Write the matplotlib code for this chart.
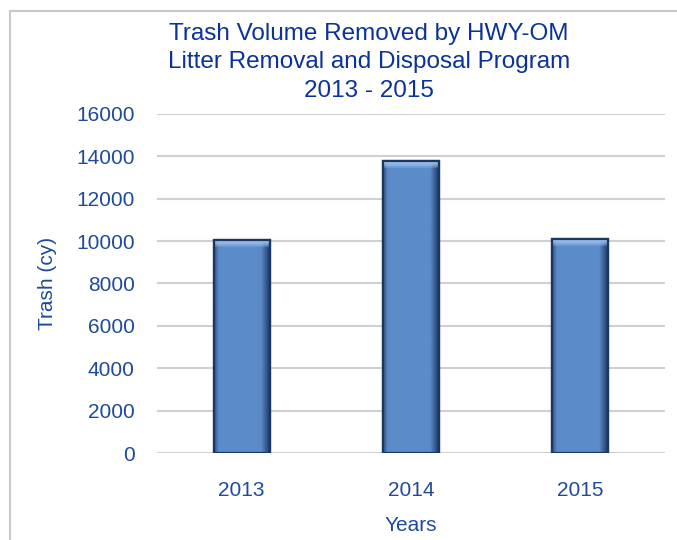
import numpy as np
import matplotlib.pyplot as plt
from matplotlib.patches import Rectangle
from matplotlib.colors import to_rgb

years = ['2013', '2014', '2015']
trash = [10050, 13800, 10100]
yticks = np.arange(0, 16001, 2000)

plt.rcParams['font.family'] = ['Liberation Sans', 'DejaVu Sans']
txt_blue = '#1f4a9c'

fig = plt.figure(figsize=(6.77, 5.40), dpi=100)
ax = fig.add_axes([0.2319, 0.1611, 0.7504, 0.6278])

x = np.arange(len(years))
bars = ax.bar(x, trash, width=0.33, color='#5b8bc9', edgecolor='#1c3663',
              linewidth=1.6, zorder=3)

# bevel-ish shading: horizontal gradient, lighter top strip
base = np.array(to_rgb('#5b8bc9'))
dark = np.array(to_rgb('#1f3a66'))
light = np.array(to_rgb('#9cc0ee'))
n = 60
t = np.linspace(0, 1, n)
w = np.zeros(n)
w[t < 0.08] = (0.08 - t[t < 0.08]) / 0.08 * 0.7
w[t > 0.85] = (t[t > 0.85] - 0.85) / 0.15
row = base[None, :] * (1 - w[:, None]) + dark[None, :] * w[:, None]
for b in bars:
    x0, y0 = b.get_x(), b.get_y()
    bw, bh = b.get_width(), b.get_height()
    im = ax.imshow(row[None, :, :], extent=(x0, x0 + bw, y0, y0 + bh),
                   aspect='auto', zorder=3.1, interpolation='bilinear')
    im.set_clip_path(b)
    top = np.linspace(0, 1, 10)[:, None, None] ** 2
    strip = light[None, None, :] * (1 - top) + row[None, :, :] * top
    im2 = ax.imshow(strip, extent=(x0, x0 + bw, y0 + bh - 380, y0 + bh),
                    aspect='auto', zorder=3.2, interpolation='bilinear',
                    origin='upper')
    im2.set_clip_path(b)
    ax.add_patch(Rectangle((x0, y0), bw, bh, fill=False, edgecolor='#1c3663',
                           linewidth=1.6, zorder=3.3))

ax.set_xlim(-0.5, 2.5)
ax.set_ylim(0, 16000)
ax.set_yticks(yticks)
ax.set_yticklabels([str(v) for v in yticks])
ax.set_xticks(x)
ax.set_xticklabels(years)
ax.tick_params(length=0, labelsize=15, labelcolor=txt_blue)
ax.tick_params(axis='y', pad=16)
ax.tick_params(axis='x', pad=20)
for s in ax.spines.values():
    s.set_visible(False)
ax.grid(axis='y', color='#d0d0d0', linewidth=1.5, zorder=0)
ax.set_axisbelow(True)

ax.set_ylabel('Trash (cy)', fontsize=15, color=txt_blue, labelpad=14)
ax.set_xlabel('Years', fontsize=15, color=txt_blue, labelpad=12)

fig.text(0.545, 0.885, 'Trash Volume Removed by HWY-OM\nLitter Removal and Disposal Program\n2013 - 2015',
         ha='center', va='center', fontsize=17.5, color='#0a3399', linespacing=1.38)

fig.patches.append(Rectangle((10 / 677, -0.1), 1.2, 1 - 11 / 540 + 0.1,
                             transform=fig.transFigure, fill=False,
                             edgecolor='#c8c8c8', linewidth=1.5))

fig.savefig('out.png', dpi=100)
